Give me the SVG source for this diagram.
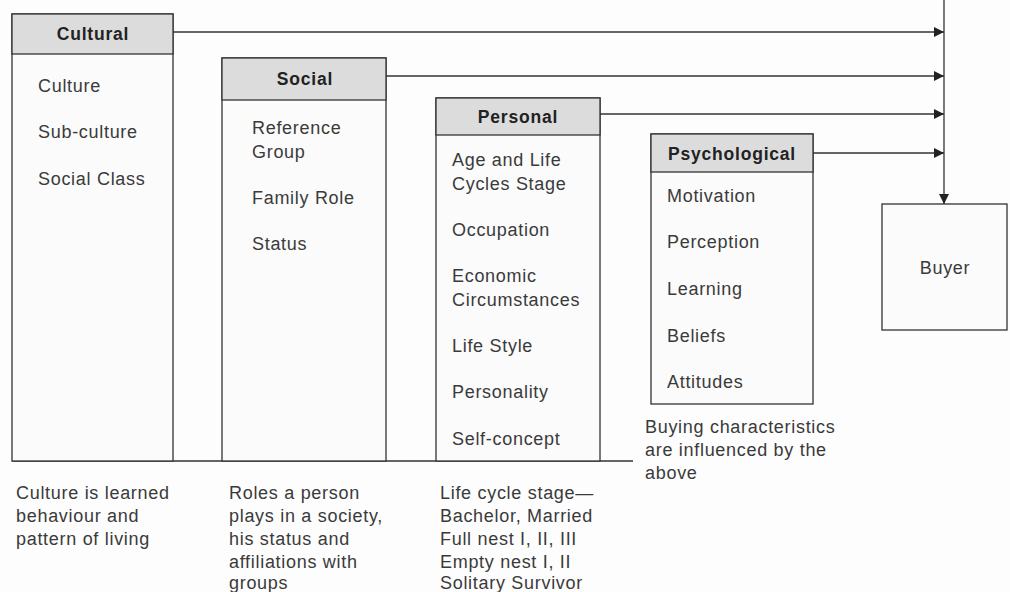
<svg xmlns="http://www.w3.org/2000/svg" width="1010" height="592" viewBox="0 0 1010 592">
<defs>
<marker id="ah" viewBox="0 0 10 10" refX="10" refY="5" markerWidth="11" markerHeight="10" markerUnits="userSpaceOnUse" orient="auto"><path d="M0,0 L10,5 L0,10 z" fill="#222"/></marker>
<style>
.box{fill:#fbfbfb;stroke:#333;stroke-width:1.3}
.hdr{fill:#dcdcdc;stroke:#333;stroke-width:1.3}
.ht{font-family:"Liberation Sans",Arial,sans-serif;font-size:17.5px;font-weight:bold;fill:#222;text-anchor:middle;letter-spacing:0.8px}
.t{font-family:"Liberation Sans",Arial,sans-serif;font-size:18px;fill:#3a3a3a;letter-spacing:0.7px}
.c{fill:none;stroke:#333;stroke-width:1.3}
</style>
</defs>
<rect width="1010" height="592" fill="#fdfdfd"/>
<g id="connectors">
<line class="c" x1="12" y1="461" x2="633" y2="461"/>
<line class="c" x1="173" y1="32" x2="944" y2="32" marker-end="url(#ah)"/>
<line class="c" x1="386" y1="76" x2="944" y2="76" marker-end="url(#ah)"/>
<line class="c" x1="600" y1="114" x2="944" y2="114" marker-end="url(#ah)"/>
<line class="c" x1="813" y1="153" x2="944" y2="153" marker-end="url(#ah)"/>
<line class="c" x1="944" y1="0" x2="944" y2="204" marker-end="url(#ah)"/>
</g>
<g id="cultural">
<rect class="box" x="12" y="14" width="161" height="447"/>
<rect class="hdr" x="12" y="14" width="161" height="40"/>
<text class="ht" x="93" y="40">Cultural</text>
<text class="t" x="38" y="92">Culture</text>
<text class="t" x="38" y="138">Sub-culture</text>
<text class="t" x="38" y="185">Social Class</text>
</g>
<g id="social">
<rect class="box" x="222" y="58" width="164" height="403"/>
<rect class="hdr" x="222" y="58" width="164" height="42"/>
<text class="ht" x="305" y="85">Social</text>
<text class="t" x="252" y="134">Reference</text>
<text class="t" x="252" y="158">Group</text>
<text class="t" x="252" y="204">Family Role</text>
<text class="t" x="252" y="250">Status</text>
</g>
<g id="personal">
<rect class="box" x="436" y="98" width="164" height="363"/>
<rect class="hdr" x="436" y="98" width="164" height="37"/>
<text class="ht" x="518" y="123">Personal</text>
<text class="t" x="452" y="166">Age and Life</text>
<text class="t" x="452" y="190">Cycles Stage</text>
<text class="t" x="452" y="236">Occupation</text>
<text class="t" x="452" y="282">Economic</text>
<text class="t" x="452" y="306">Circumstances</text>
<text class="t" x="452" y="352">Life Style</text>
<text class="t" x="452" y="398">Personality</text>
<text class="t" x="452" y="445">Self-concept</text>
</g>
<g id="psychological">
<rect class="box" x="651" y="134" width="162" height="270"/>
<rect class="hdr" x="651" y="134" width="162" height="38"/>
<text class="ht" x="732" y="160">Psychological</text>
<text class="t" x="667" y="202">Motivation</text>
<text class="t" x="667" y="248">Perception</text>
<text class="t" x="667" y="295">Learning</text>
<text class="t" x="667" y="342">Beliefs</text>
<text class="t" x="667" y="388">Attitudes</text>
</g>
<g id="buyer">
<rect class="box" x="882" y="204" width="125" height="126"/>
<text class="t" x="945" y="274" text-anchor="middle">Buyer</text>
</g>
<g id="captions">
<text class="t" x="16" y="499">Culture is learned</text>
<text class="t" x="16" y="522">behaviour and</text>
<text class="t" x="16" y="545">pattern of living</text>
<text class="t" x="229" y="499">Roles a person</text>
<text class="t" x="229" y="522">plays in a society,</text>
<text class="t" x="229" y="545">his status and</text>
<text class="t" x="229" y="568">affiliations with</text>
<text class="t" x="229" y="589">groups</text>
<text class="t" x="440" y="499">Life cycle stage—</text>
<text class="t" x="440" y="522">Bachelor, Married</text>
<text class="t" x="440" y="545">Full nest I, II, III</text>
<text class="t" x="440" y="568">Empty nest I, II</text>
<text class="t" x="440" y="589">Solitary Survivor</text>
<text class="t" x="645" y="433">Buying characteristics</text>
<text class="t" x="645" y="456">are influenced by the</text>
<text class="t" x="645" y="479">above</text>
</g>
</svg>
